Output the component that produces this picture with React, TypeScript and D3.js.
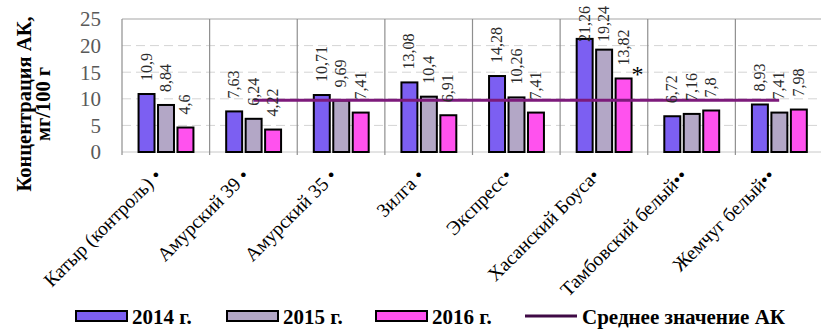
import React from "react";
import * as d3 from "d3";

// Ascorbic acid (АК) concentration by cultivar, mg/100 g
const categories = [
  "Катыр (контроль) •",
  "Амурский 39 •",
  "Амурский 35 •",
  "Зилга •",
  "Экспресс•",
  "Хасанский Боуса•",
  "Тамбовский белый••",
  "Жемчуг белый••",
];
const seriesNames = ["2014 г.", "2015 г.", "2016 г."];
const values2014 = [10.9, 7.63, 10.71, 13.08, 14.28, 21.26, 6.72, 8.93];
const values2015 = [8.84, 6.24, 9.69, 10.4, 10.26, 19.24, 7.16, 7.41];
const values2016 = [4.6, 4.22, 7.41, 6.91, 7.41, 13.82, 7.8, 7.98];
const yTicks = [0, 5, 10, 15, 20, 25];
const meanLabel = "Среднее значение АК";
const yTitle = ["Концентрация АК,", "мг/100 г"];
// Category marked as significantly different
const starCategory = "Хасанский Боуса•";

const seriesValues = [values2014, values2015, values2016];
const colors = ["#7c5ff2", "#b3a7c6", "#ff52ee"];
const lineColor = "#7d1a7b";
const FONT = "Liberation Serif, Times New Roman, DejaVu Serif, serif";

const W = 821;
const H = 329;
const plot = { left: 122, right: 823, top: 19, bottom: 152 };

const fmt = (v: number) => String(v).replace(".", ",");

export default function App() {
  const x = d3
    .scaleBand<string>()
    .domain(categories)
    .range([plot.left, plot.right])
    .padding(0);
  const xs = d3
    .scaleBand<string>()
    .domain(seriesNames)
    .range([15, 73])
    .paddingInner(0.18)
    .paddingOuter(0.08);
  const y = d3.scaleLinear().domain([0, 25]).range([plot.bottom, plot.top]);

  const allValues = seriesValues.flat();
  const mean = d3.mean(allValues) as number;
  // mean line spans categories 2..8
  const meanPoints: [number, number][] = categories
    .slice(1)
    .map((c) => [(x(c) as number) + x.bandwidth() / 2, y(mean)]);
  const meanPath = d3.line()(meanPoints) as string;

  const bw = xs.bandwidth();

  const legendItems = [
    { kind: "rect", color: colors[0], label: seriesNames[0], x: 75 },
    { kind: "rect", color: colors[1], label: seriesNames[1], x: 226 },
    { kind: "rect", color: colors[2], label: seriesNames[2], x: 375 },
    { kind: "line", color: "#3f0a45", label: meanLabel, x: 525 },
  ];

  const txt = { fontFamily: FONT };

  return (
    <svg
      width={W}
      height={H}
      style={{ position: "absolute", left: 0, top: 0, background: "#fff", fontFamily: FONT }}
    >
      {/* horizontal gridlines */}
      {yTicks.slice(1, -1).map((t) => (
        <line
          key={"g" + t}
          x1={plot.left}
          x2={plot.right}
          y1={y(t)}
          y2={y(t)}
          stroke="#d4d4d4"
          strokeWidth={1}
          strokeDasharray="9 5"
        />
      ))}
      <line x1={plot.left} x2={plot.right} y1={y(25)} y2={y(25)} stroke="#a6a6a6" strokeWidth={1.2} />
      <line x1={plot.left} x2={plot.right} y1={y(0)} y2={y(0)} stroke="#c8c8c8" strokeWidth={1} />

      {/* category dividers */}
      {categories.map((c) => (
        <line
          key={"d" + c}
          x1={x(c) as number}
          x2={x(c) as number}
          y1={plot.top}
          y2={plot.bottom + 3}
          stroke="#8f8f8f"
          strokeWidth={1.2}
        />
      ))}

      {/* y tick labels */}
      {yTicks.map((t) => (
        <text
          key={"t" + t}
          x={101}
          y={y(t)}
          dy="0.35em"
          textAnchor="end"
          fontSize={21}
          fill="#595959"
          style={txt}
        >
          {t}
        </text>
      ))}

      {/* y axis title */}
      {yTitle.map((s, i) => (
        <text
          key={"yt" + i}
          transform={`translate(${i === 0 ? 31 : 50},104) rotate(-90)`}
          textAnchor="middle"
          fontSize={20.5}
          fontWeight="bold"
          fill="#000"
          style={txt}
        >
          {s}
        </text>
      ))}

      {/* bars */}
      {categories.map((c, ci) =>
        seriesNames.map((s, si) => {
          const v = seriesValues[si][ci];
          const bx = (x(c) as number) + (xs(s) as number);
          return (
            <rect
              key={c + s}
              x={bx}
              y={y(v)}
              width={bw}
              height={y(0) - y(v)}
              fill={colors[si]}
              stroke="#000"
              strokeWidth={2}
            />
          );
        })
      )}

      {/* mean line */}
      <path d={meanPath} fill="none" stroke={lineColor} strokeWidth={3} />

      {/* value labels, rotated */}
      {categories.map((c, ci) =>
        seriesNames.map((s, si) => {
          const v = seriesValues[si][ci];
          const cx = (x(c) as number) + (xs(s) as number) + bw / 2;
          const by = Math.max(y(v) - 13, 42);
          return (
            <text
              key={"l" + c + s}
              transform={`translate(${cx + 5},${by}) rotate(-90)`}
              fontSize={16}
              fill="#2a2a2a"
              style={txt}
            >
              {fmt(v)}
            </text>
          );
        })
      )}

      {/* significance mark */}
      {(() => {
        const ci = categories.indexOf(starCategory);
        const v = values2016[ci];
        const cx = (x(starCategory) as number) + (xs(seriesNames[2]) as number) + bw / 2;
        return (
          <text x={cx + 14} y={y(v) + 4} textAnchor="middle" fontSize={24} fill="#000" style={txt}>
            *
          </text>
        );
      })()}

      {/* category labels */}
      {categories.map((c) => (
        <text
          key={"x" + c}
          transform={`translate(${(x(c) as number) + x.bandwidth() / 2 - 3},177) rotate(-45)`}
          textAnchor="end"
          fontSize={19.5}
          fill="#000"
          style={txt}
        >
          {c}
        </text>
      ))}

      {/* legend */}
      {legendItems.map((it) => (
        <g key={"lg" + it.label} transform={`translate(${it.x},316)`}>
          {it.kind === "rect" ? (
            <rect x={1} y={-5} width={51} height={10} fill={it.color} stroke="#000" strokeWidth={2} />
          ) : (
            <line x1={0} x2={52} y1={0} y2={0} stroke={it.color} strokeWidth={3} />
          )}
          <text x={57} y={0} dy="0.36em" fontSize={21} fontWeight="bold" fill="#000" style={txt}>
            {it.label}
          </text>
        </g>
      ))}
    </svg>
  );
}
